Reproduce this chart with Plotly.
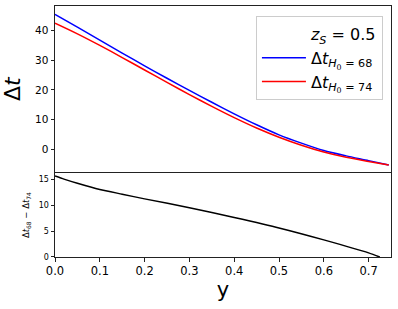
import plotly.graph_objects as go

# data
y_top = [0, 0.05, 0.1, 0.15, 0.2, 0.25, 0.3, 0.35, 0.4, 0.45, 0.5, 0.55, 0.6, 0.65, 0.7, 0.745]
dt_68 = [45.5, 41.2, 36.8, 32.4, 28.1, 23.9, 19.8, 15.8, 11.9, 8.2, 4.8, 2.0, -0.5, -2.3, -3.9, -5.4]
dt_74 = [42.5, 38.9, 35.0, 30.9, 26.7, 22.5, 18.4, 14.4, 10.6, 7.1, 4.0, 1.3, -1.0, -2.8, -4.2, -5.4]

y_bot = [0, 0.02, 0.05, 0.1, 0.15, 0.2, 0.3, 0.4, 0.5, 0.6, 0.7, 0.725]
diff_vals = [15.6, 15.0, 14.2, 13.0, 12.1, 11.2, 9.5, 7.6, 5.6, 3.3, 0.8, 0.0]

x_ticks = [0, 0.1, 0.2, 0.3, 0.4, 0.5, 0.6, 0.7]
top_ticks = [0, 10, 20, 30, 40]
bot_ticks = [0, 5, 10, 15]

FONT = "DejaVu Sans"

fig = go.Figure()
fig.add_trace(go.Scatter(x=[None], y=[None], mode="lines", line=dict(color="rgba(0,0,0,0)", width=1),
                         name="<i>z<sub>S</sub></i> = 0.5", xaxis="x", yaxis="y"))
fig.add_trace(go.Scatter(x=y_top, y=dt_68, mode="lines",
                         line=dict(color="blue", width=1.5, shape="spline", smoothing=0.8),
                         name="Δ<i>t</i><sub><i>H</i><sub>0</sub> = 68</sub>", xaxis="x", yaxis="y"))
fig.add_trace(go.Scatter(x=y_top, y=dt_74, mode="lines",
                         line=dict(color="red", width=1.5, shape="spline", smoothing=0.8),
                         name="Δ<i>t</i><sub><i>H</i><sub>0</sub> = 74</sub>", xaxis="x", yaxis="y"))
fig.add_trace(go.Scatter(x=y_bot, y=diff_vals, mode="lines",
                         line=dict(color="black", width=1.5, shape="spline", smoothing=0.6),
                         showlegend=False, xaxis="x2", yaxis="y2"))

axis_common = dict(showline=True, linecolor="#222", linewidth=1, mirror=True, showgrid=False,
                   zeroline=False, ticklen=3.5, tickwidth=0.8, tickcolor="#222")

fig.update_layout(
    width=398, height=309,
    margin=dict(l=55, r=7, t=6, b=52),
    paper_bgcolor="white", plot_bgcolor="white",
    font=dict(family=FONT, color="black"),
    xaxis=dict(**axis_common, domain=[0, 1], range=[0, 0.75], anchor="y", showticklabels=False,
               ticks="", matches="x2"),
    yaxis=dict(**axis_common, ticks="outside", domain=[0.338, 1], range=[-7.8, 48.3], tickvals=top_ticks,
               tickfont=dict(size=10.5),
               title=dict(text="Δ<i>t</i>", font=dict(size=22), standoff=9)),
    xaxis2=dict(**axis_common, ticks="outside", domain=[0, 1], range=[0, 0.75], anchor="y2", tickvals=x_ticks,
                tickformat=".1f", tickfont=dict(size=11.5),
                title=dict(text="y", font=dict(size=21), standoff=4)),
    yaxis2=dict(**axis_common, ticks="outside", domain=[0, 0.334], range=[0, 16.15], anchor="x2", tickvals=bot_ticks,
                tickfont=dict(size=8),
                title=dict(text="Δ<i>t</i><sub>68</sub> − Δ<i>t</i><sub>74</sub>", font=dict(size=8.5), standoff=7)),
    legend=dict(x=0.976, y=0.96, xanchor="right", yanchor="top", font=dict(size=16, family=FONT),
                bgcolor="rgba(255,255,255,0.8)", bordercolor="#cccccc", borderwidth=1,
                itemwidth=44, tracegroupgap=0),
    showlegend=True,
)

fig.write_html("out.html", config={"displayModeBar": False},
               post_script="document.body.style.margin='0px';")
